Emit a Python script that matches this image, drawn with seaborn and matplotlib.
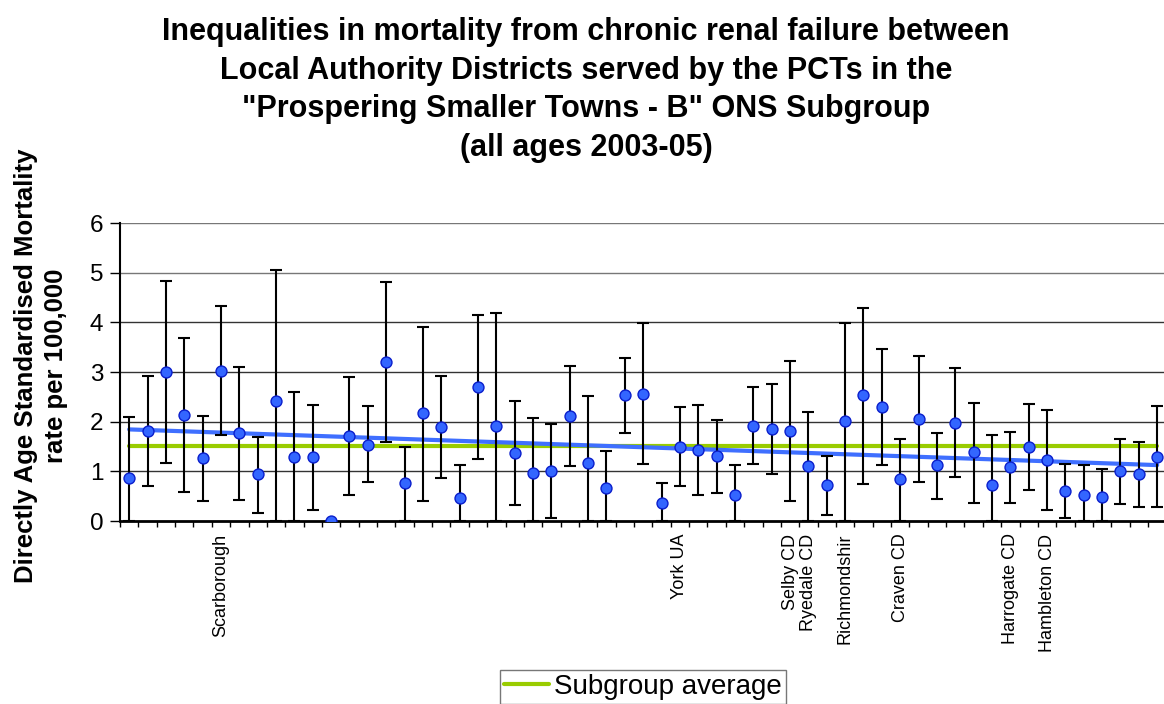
import numpy as np
import matplotlib
matplotlib.use("Agg")
import matplotlib.pyplot as plt
from matplotlib.ticker import FixedLocator
from matplotlib.lines import Line2D
import seaborn as sns

# directly age standardised mortality rate per 100,000 for each district
rate = [0.86, 1.81, 2.99, 2.13, 1.27, 3.03, 1.77, 0.94, 2.41, 1.28,
        1.28, 0.00, 1.71, 1.54, 3.20, 0.76, 2.17, 1.89, 0.47, 2.70,
        1.92, 1.37, 0.97, 1.01, 2.11, 1.17, 0.66, 2.54, 2.56, 0.36,
        1.50, 1.43, 1.30, 0.52, 1.92, 1.86, 1.81, 1.11, 0.72, 2.01,
        2.53, 2.29, 0.85, 2.06, 1.12, 1.98, 1.38, 0.73, 1.08, 1.49,
        1.22, 0.61, 0.53, 0.48, 1.00, 0.94, 1.29]
lower = [0.00, 0.70, 1.16, 0.58, 0.40, 1.73, 0.43, 0.17, 0.00, 0.00,
         0.22, 0.00, 0.52, 0.78, 1.59, 0.00, 0.40, 0.87, 0.00, 1.25,
         0.00, 0.33, 0.00, 0.06, 1.10, 0.00, 0.00, 1.77, 1.14, 0.00,
         0.70, 0.52, 0.56, 0.00, 1.14, 0.95, 0.40, 0.00, 0.12, 0.00,
         0.75, 1.12, 0.00, 0.79, 0.44, 0.88, 0.36, 0.00, 0.36, 0.63,
         0.22, 0.07, 0.00, 0.00, 0.34, 0.29, 0.28]
upper = [2.10, 2.92, 4.83, 3.68, 2.12, 4.32, 3.10, 1.69, 5.06, 2.59,
         2.34, 0.00, 2.90, 2.31, 4.82, 1.48, 3.91, 2.92, 1.12, 4.15,
         4.19, 2.41, 2.08, 1.96, 3.13, 2.51, 1.41, 3.29, 3.98, 0.77,
         2.30, 2.34, 2.04, 1.13, 2.70, 2.76, 3.23, 2.20, 1.31, 3.99,
         4.29, 3.47, 1.65, 3.33, 1.77, 3.08, 2.38, 1.73, 1.79, 2.35,
         2.23, 1.14, 1.12, 1.04, 1.65, 1.60, 2.32]
subgroup_avg = 1.51

# only some districts are named on the axis
named = {5: "Scarborough", 30: "York UA", 36: "Selby CD", 37: "Ryedale CD",
         39: "Richmondshir", 42: "Craven CD", 48: "Harrogate CD",
         50: "Hambleton CD"}
districts = [named.get(i, "") for i in range(len(rate))]

sns.set_style("white")
plt.rcParams['font.family'] = ['Liberation Sans', 'DejaVu Sans']
plt.rcParams['text.color'] = 'black'
plt.rcParams['xtick.color'] = 'black'
plt.rcParams['ytick.color'] = 'black'

fig = plt.figure(figsize=(11.64, 7.04), dpi=100)
ax = fig.add_axes([120 / 1164, 1 - 521 / 704, 1 - 120 / 1164, (521 - 223) / 704])

idx = np.arange(len(rate))
rate = np.array(rate)
yerr = [rate - np.array(lower), np.array(upper) - rate]

# horizontal gridlines
for g in range(1, 7):
    ax.axhline(g, color='#333333' if g < 5 else '#777777', lw=1.0, zorder=0)

# subgroup average
sns.lineplot(x=[idx[0], idx[-1]], y=[subgroup_avg, subgroup_avg], ax=ax,
             color='#99CC00', lw=3, zorder=2)

# linear trend
sns.regplot(x=idx, y=rate, ax=ax, scatter=False, ci=None, truncate=True,
            line_kws=dict(color='#3F6FFF', lw=3, zorder=3))

ax.errorbar(idx, rate, yerr=yerr, fmt='none', ecolor='black', elinewidth=1.5,
            capsize=4, capthick=1.5, zorder=4)
sns.scatterplot(x=idx, y=rate, ax=ax, s=62, color='#3366FF',
                edgecolor='#0A1ECC', linewidth=1, zorder=5)

ax.set_xlim(-0.5, 56.37)
ax.set_ylim(0, 6)
ax.set_yticks(range(0, 7))
ax.tick_params(axis='y', labelsize=17.5, length=7, width=1, pad=5, left=True,
               color='black')

ax.set_xticks(idx)
ax.set_xticklabels(districts, rotation=90, fontsize=13)
ax.tick_params(axis='x', which='major', length=0, pad=9)
ax.xaxis.set_minor_locator(FixedLocator(np.arange(-0.5, 57, 1)))
ax.tick_params(axis='x', which='minor', length=4, width=1, bottom=True,
               color='black')

for s in ['top', 'right']:
    ax.spines[s].set_visible(False)
ax.spines['left'].set_color('black')
ax.spines['left'].set_linewidth(1.5)
ax.spines['bottom'].set_color('black')
ax.spines['bottom'].set_linewidth(2)

fig.text(586 / 1164, 1 - 17 / 704,
         "Inequalities in mortality from chronic renal failure between\n"
         "Local Authority Districts served by the PCTs in the\n"
         "\"Prospering Smaller Towns - B\" ONS Subgroup\n"
         "(all ages 2003-05)",
         ha='center', va='top', fontsize=22, fontweight='bold', linespacing=1.37)

fig.text(41 / 1164, 1 - 366 / 704,
         "Directly Age Standardised Mortality\nrate per 100,000",
         ha='center', va='center', rotation=90, fontsize=18.5,
         fontweight='bold', linespacing=1.3)

handle = Line2D([], [], color='#99CC00', lw=3)
leg = fig.legend([handle], ["Subgroup average"], loc='upper center',
                 bbox_to_anchor=(643 / 1164, 1 - 670 / 704), fontsize=20,
                 frameon=True, fancybox=False, handlelength=1.6,
                 handletextpad=0.2, borderpad=0.15, borderaxespad=0)
leg.get_frame().set_edgecolor('#555555')
leg.get_frame().set_linewidth(1)

fig.savefig('out.png', dpi=100)
